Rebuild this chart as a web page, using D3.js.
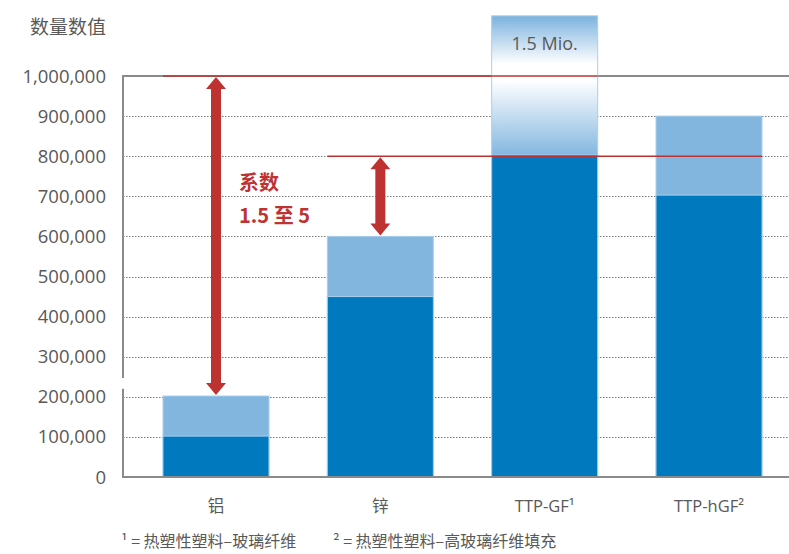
<!DOCTYPE html>
<html>
<head>
<meta charset="utf-8">
<script src="https://cdn.jsdelivr.net/npm/d3@7"></script>
<style>
  html, body { margin: 0; padding: 0; background: #fff; }
  svg { display: block; }
  text { font-family: "Open Sans", "Noto Sans CJK SC", sans-serif; }
  .cjk { font-family: "Noto Sans CJK SC", "Open Sans", sans-serif; }
</style>
</head>
<body>
<svg id="chart" width="789" height="554"></svg>
<script>
// Materials compared
const categories = ["铝", "锌", "TTP-GF¹", "TTP-hGF²"];
// Lower (dark) value and upper (light) value of each bar
const lowValues  = [102000, 450000, 803000, 703000];
const highValues = [202000, 600000, 1150000, 900000];
// Y axis ticks
const tickValues = [0, 100000, 200000, 300000, 400000, 500000, 600000, 700000, 800000, 900000, 1000000];
const tickLabels = ["0", "100,000", "200,000", "300,000", "400,000", "500,000", "600,000", "700,000", "800,000", "900,000", "1,000,000"];
// Reference levels and factor annotation
const refLevels = [1000000, 800000];
const factorLines = ["系数", "1.5 至 5"];
const overflowLabel = "1.5 Mio.";
const yTitle = "数量数值";
const footnotes = ["¹ = 热塑性塑料–玻璃纤维", "² = 热塑性塑料–高玻璃纤维填充"];

const svg = d3.select("#chart");
const DARK = "#0079be", LIGHT = "#82b6df", EDGE = "#a9cfee", RED = "#be3331", GREY = "#595959", AXIS = "#8a8a8a";
const left = 123, right = 789, yTop = 76, yBottom = 477;

const x = d3.scaleBand().domain(categories).range([123, 802])
  .paddingInner(0.355).paddingOuter(0.2434);
const y = d3.scaleLinear().domain([0, 1000000]).range([yBottom, yTop]);

// Gradient for the bar that runs past the top of the scale
const defs = svg.append("defs");
const grad = defs.append("linearGradient").attr("id", "overflow")
  .attr("gradientUnits", "userSpaceOnUse")
  .attr("x1", 0).attr("x2", 0)
  .attr("y1", y(highValues[2])).attr("y2", y(lowValues[2]));
const gSpan = y(lowValues[2]) - y(highValues[2]);
const off = v => (y(v) - y(highValues[2])) / gSpan;
grad.append("stop").attr("offset", 0).attr("stop-color", "#7bb2de");
grad.append("stop").attr("offset", off(1030000)).attr("stop-color", "#ffffff");
grad.append("stop").attr("offset", off(990000)).attr("stop-color", "#ffffff");
grad.append("stop").attr("offset", 1).attr("stop-color", "#84b7e0");

// Dotted grid lines
svg.append("g").selectAll("line").data(tickValues.filter(v => v > 0 && v < 1000000)).join("line")
  .attr("x1", left).attr("x2", right)
  .attr("y1", d => Math.round(y(d)) + 0.5).attr("y2", d => Math.round(y(d)) + 0.5)
  .attr("stroke", "#7a7a7a").attr("stroke-width", 1).attr("stroke-dasharray", "1.5,1.5");

// Frame: top line at 1,000,000
svg.append("line").attr("x1", left).attr("x2", right).attr("y1", y(1000000)).attr("y2", y(1000000))
  .attr("stroke", AXIS).attr("stroke-width", 2);

// Bars: light upper part then dark lower part
const bars = svg.append("g");
bars.selectAll("rect.hi").data(categories).join("rect").attr("class", "hi")
  .attr("x", d => x(d)).attr("width", x.bandwidth())
  .attr("y", (d, i) => y(highValues[i]))
  .attr("height", (d, i) => y(0) - y(highValues[i]))
  .attr("fill", (d, i) => i === 2 ? "url(#overflow)" : LIGHT)
  .attr("stroke", EDGE).attr("stroke-width", 1);
bars.selectAll("rect.lo").data(categories).join("rect").attr("class", "lo")
  .attr("x", d => x(d)).attr("width", x.bandwidth())
  .attr("y", (d, i) => y(lowValues[i]))
  .attr("height", (d, i) => y(0) - y(lowValues[i]))
  .attr("fill", DARK)
  .attr("stroke", EDGE).attr("stroke-width", 1);

// Axis lines
svg.append("line").attr("x1", left).attr("x2", left).attr("y1", yTop - 1).attr("y2", yBottom)
  .attr("stroke", AXIS).attr("stroke-width", 2);
svg.append("rect").attr("x", left - 2).attr("width", 4)
  .attr("y", y(247000)).attr("height", y(220000) - y(247000)).attr("fill", "#fff");
svg.append("line").attr("x1", left - 1).attr("x2", right).attr("y1", yBottom).attr("y2", yBottom)
  .attr("stroke", AXIS).attr("stroke-width", 2);

// Red reference lines
const refSpans = [[categories[0], categories[2]], [categories[1], categories[3]]];
svg.append("g").selectAll("line").data(refLevels).join("line")
  .attr("x1", (d, i) => x(refSpans[i][0]))
  .attr("x2", (d, i) => x(refSpans[i][1]) + x.bandwidth())
  .attr("y1", d => y(d)).attr("y2", d => y(d))
  .attr("stroke", RED).attr("stroke-width", 1.6);

// Double-headed arrows between reference level and bar top
function arrow(cx, yA, yB) {
  const hw = 10, sw = 5, hh = 12;
  const p = d3.path();
  p.moveTo(cx, yA);
  p.lineTo(cx + hw, yA + hh); p.lineTo(cx + sw, yA + hh);
  p.lineTo(cx + sw, yB - hh); p.lineTo(cx + hw, yB - hh);
  p.lineTo(cx, yB);
  p.lineTo(cx - hw, yB - hh); p.lineTo(cx - sw, yB - hh);
  p.lineTo(cx - sw, yA + hh); p.lineTo(cx - hw, yA + hh);
  p.closePath();
  svg.append("path").attr("d", p.toString()).attr("fill", RED);
}
arrow(x(categories[0]) + x.bandwidth() / 2, y(refLevels[0]) + 1, y(highValues[0]) - 1);
arrow(x(categories[1]) + x.bandwidth() / 2, y(refLevels[1]) + 1, y(highValues[1]) - 1);

// Factor annotation
svg.append("g").selectAll("text").data(factorLines).join("text")
  .attr("class", "cjk")
  .attr("x", 239).attr("y", (d, i) => 190 + i * 33)
  .attr("fill", RED).attr("font-size", 20).attr("font-weight", 700)
  .text(d => d);

// Overflow value label
svg.append("text")
  .attr("x", x(categories[2]) + x.bandwidth() / 2).attr("y", 50)
  .attr("text-anchor", "middle").attr("fill", GREY).attr("font-size", 18)
  .text(overflowLabel);

// Y tick labels
svg.append("g").selectAll("text").data(tickValues).join("text")
  .attr("x", 106).attr("y", d => y(d) + 6.5)
  .attr("text-anchor", "end").attr("fill", GREY).attr("font-size", 18.5)
  .text((d, i) => tickLabels[i]);

// Y title
svg.append("text").attr("class", "cjk")
  .attr("x", 106).attr("y", 34).attr("text-anchor", "end")
  .attr("fill", GREY).attr("font-size", 19).text(yTitle);

// Category labels
svg.append("g").selectAll("text").data(categories).join("text")
  .attr("class", d => /[a-z]/i.test(d) ? null : "cjk")
  .attr("x", d => x(d) + x.bandwidth() / 2).attr("y", 512)
  .attr("text-anchor", "middle").attr("fill", GREY).attr("font-size", 16.5)
  .text(d => d);

// Footnotes
svg.append("g").selectAll("text").data(footnotes).join("text")
  .attr("class", "cjk")
  .attr("x", (d, i) => i === 0 ? 121 : 333).attr("y", 547)
  .attr("fill", GREY).attr("font-size", 16)
  .text(d => d);
</script>
</body>
</html>
